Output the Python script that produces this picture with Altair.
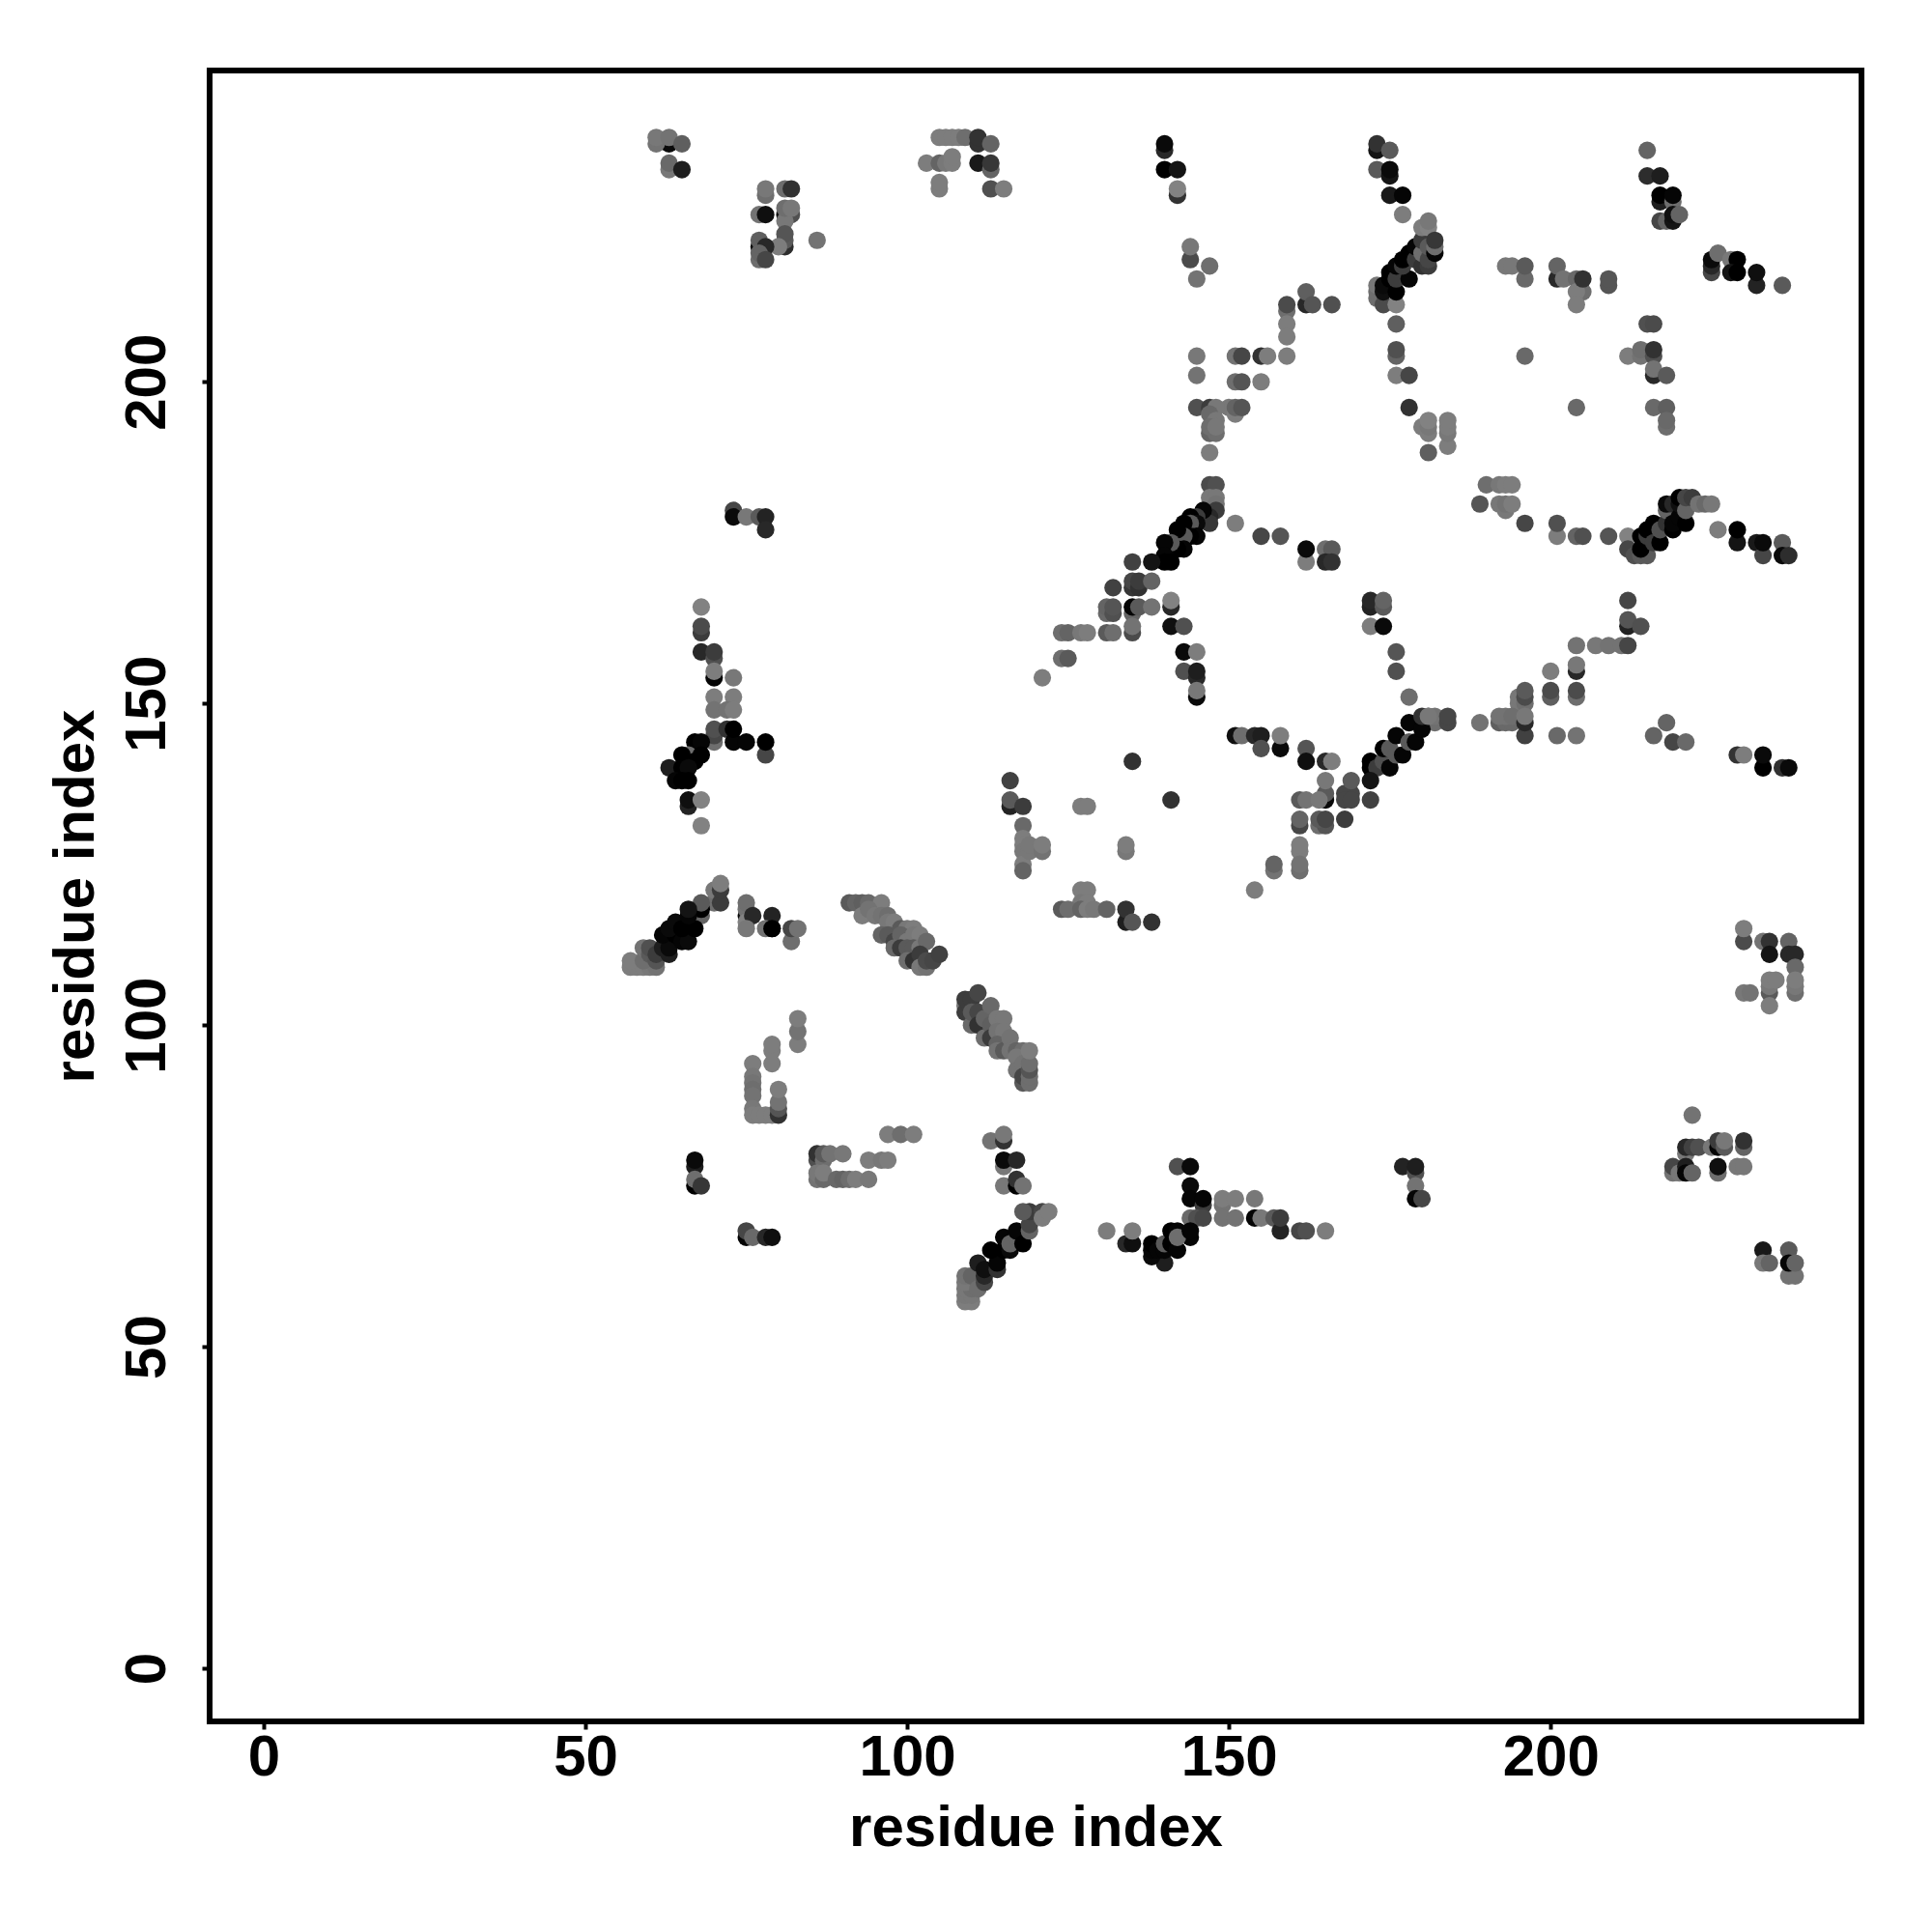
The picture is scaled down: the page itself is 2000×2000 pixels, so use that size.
import altair as alt
import pandas as pd

tick_values = [0, 50, 100, 150, 200]
axis_title = "residue index"

# (residue x, residue y, grey level)
top_left = [
    (63,237,10),(61,237,115),(61,238,120),(63,238,115),(65,237,95),(63,233,120),(63,234,105),(65,233,30),
    (78,229,110),(78,230,120),(81,230,110),(82,230,50),(77,226,115),(78,226,15),(81,226,10),(82,226,80),(81,225,120),(81,227,110),(82,227,120),
    (81,221,45),(81,222,90),(81,223,85),(80,221,125),(77,221,5),(77,222,95),(78,221,40),(77,219,110),(77,220,100),(78,219,70),(86,222,115),
    (105,238,125),(106,238,125),(107,238,125),(108,238,125),(109,238,110),(111,237,50),(111,238,50),(113,237,100),
    (103,234,125),(105,234,100),(106,234,120),(107,234,125),(107,235,125),(111,234,25),(113,233,100),(113,234,55),
    (105,230,125),(105,231,125),(113,230,80),(115,230,125),
]
top_middle = [
    (140,236,40),(140,237,10),(140,233,0),(142,233,20),(142,229,50),(142,230,130),
    (144,219,75),(144,221,120),(147,218,110),(145,216,115),
    (162,212,40),(162,214,95),(163,212,85),(166,212,80),(159,211,110),(159,212,75),(159,209,125),(159,207,125),(159,204,125),
    (145,204,120),(151,204,115),(152,204,70),(155,204,50),(156,204,125),
    (145,201,115),(151,200,110),(152,200,85),(155,200,125),
    (145,196,80),(147,196,60),(150,196,120),(151,195,125),(151,196,100),(152,196,85),(148,196,120),(147,195,105),(148,194,120),
    (147,192,100),(148,192,110),(147,193,110),(148,193,120),(147,189,125),
    (173,236,20),(173,237,50),(175,236,90),(173,233,90),(175,232,20),(175,233,10),(175,229,25),(177,229,5),(177,226,125),
    (173,213,110),(173,214,110),(173,215,120),(174,212,75),(174,214,15),(174,215,10),(176,212,130),
    (176,209,95),(176,204,100),(176,205,80),(176,201,125),(178,201,70),(178,196,50),
    (176,214,0),(175,216,0),(175,217,0),(176,216,60),(178,216,5),(176,218,5),(177,218,60),(177,219,0),(178,220,0),(179,219,60),(179,221,5),
    (180,218,50),(180,220,110),(180,222,60),(180,224,125),(181,218,60),(181,219,70),(181,221,90),(181,224,130),(181,225,120),
    (182,220,5),(182,221,110),(182,222,55),
    (180,193,125),(181,192,125),(181,193,120),(181,194,130),(181,189,95),
    (184,190,125),(184,192,120),(184,193,125),(184,194,125),
]
top_right = [
    (215,236,100),(215,232,45),(217,232,30),(217,228,30),(217,229,0),(219,228,110),(219,229,5),
    (217,225,70),(218,225,100),(219,225,20),(219,226,15),(220,226,100),
    (193,218,120),(194,218,120),(196,216,105),(196,218,90),
    (201,216,40),(201,218,100),(202,216,115),(204,216,105),(205,214,110),(204,214,125),(205,216,50),(204,212,125),
    (209,215,85),(209,216,85),
    (225,217,70),(225,218,40),(225,219,10),(226,220,110),(228,219,120),(229,219,0),(228,217,20),(229,217,0),(232,215,35),(232,217,15),(236,215,90),
    (215,209,80),(216,209,75),(212,204,125),(214,204,115),(214,205,110),(216,204,80),(216,205,50),(216,201,40),(216,202,115),(218,201,90),
    (196,204,105),(204,196,105),(216,196,105),(218,196,95),(218,193,110),(218,194,105),
    (190,184,110),(192,184,120),(193,184,125),(194,184,125),
    (189,181,85),(192,181,120),(193,180,120),(193,181,115),(194,181,125),
]
band_178 = [
    (196,178,70),(201,176,125),(201,178,80),(204,176,100),(205,176,80),(209,176,85),(212,176,130),
    (212,174,70),(213,173,80),(214,173,90),(215,173,90),(214,174,0),(214,176,0),(215,176,60),(215,177,0),
    (216,175,60),(216,178,0),(217,175,0),(217,177,80),(218,178,50),(218,180,100),(218,181,10),
    (219,177,0),(219,178,5),(219,181,40),(220,179,5),(220,181,15),(220,182,0),(221,178,0),(221,180,100),(221,182,70),(222,182,60),
    (223,181,115),(224,181,105),(225,181,120),
    (226,177,125),(229,175,20),(229,177,0),(232,175,25),(233,173,70),(233,175,10),(236,175,90),(236,173,10),(237,173,45),
]
right_mid = [
    (212,166,70),(212,162,35),(212,163,85),(214,162,80),
    (204,159,115),(207,159,120),(209,159,115),(211,159,115),(212,159,70),
    (204,155,40),(204,156,120),(200,155,125),(200,151,95),(200,152,75),(204,151,110),(204,152,75),
    (195,150,120),(195,151,120),(196,150,110),(196,151,75),(196,152,90),
    (192,147,95),(193,147,105),(194,147,105),(192,148,115),(193,148,115),(194,148,110),(189,147,115),
    (196,145,65),(196,147,40),(196,148,120),
    (201,145,105),(204,145,115),(216,145,100),(218,147,100),(219,144,70),(221,144,105),
    (229,142,50),(230,142,125),(233,140,0),(233,142,10),(236,140,50),(237,140,10),
    (181,148,120),(182,147,110),(182,148,115),(184,147,70),(184,148,70),
]
left_mid = [
    (73,180,70),(73,179,10),(75,179,120),(77,179,90),(78,179,35),(78,177,40),
    (68,165,130),(68,161,60),(68,162,75),(68,158,40),(70,157,80),(70,158,60),(70,154,5),(70,155,125),(73,154,120),
    (70,151,125),(73,151,125),(70,149,115),(72,149,115),(73,149,125),
    (70,144,110),(70,145,70),(70,146,80),(72,146,50),(73,144,5),(73,146,0),(75,144,5),(78,142,70),(78,144,0),
    (67,144,0),(68,144,5),(66,141,100),(66,142,110),(65,142,0),(68,142,0),(67,141,0),(63,140,30),(65,140,0),(66,140,10),
    (64,138,5),(65,138,0),(66,138,0),(66,134,35),(66,135,15),(68,135,130),(68,131,130),
    (116,138,65),(116,134,35),(116,135,90),(118,134,60),(118,131,105),(118,129,125),(118,128,125),(118,127,120),
    (118,125,125),(118,124,100),(119,127,120),(119,128,120),(121,127,115),(121,128,125),
    (70,119,110),(70,121,120),(71,119,60),(71,121,60),(71,122,125),(68,117,100),(68,118,0),(68,119,90),
    (75,117,10),(75,118,115),(75,119,110),(75,116,130),(76,117,40),(79,115,0),(79,117,35),
]
chain_upper = [
    (57,109,125),(58,109,125),(59,109,125),(60,109,120),(61,109,115),(57,110,125),(59,110,110),(59,112,115),(60,111,90),(60,112,80),
    (61,110,85),(61,111,60),(62,112,30),(63,111,30),(63,112,10),(62,114,5),(64,114,0),(63,115,10),(65,113,5),(66,113,10),
    (64,116,10),(65,115,0),(67,115,0),(66,117,5),(66,118,20),
    (75,115,120),(78,115,115),(79,115,0),(82,113,110),(82,115,70),(83,115,115),
    (91,119,90),(92,119,100),(93,119,95),(94,119,105),(96,119,125),(93,117,125),(94,118,115),(95,117,120),(96,117,115),(97,117,110),
    (97,116,120),(98,116,125),(96,114,100),(97,114,90),(99,115,90),(100,115,120),(101,115,125),(98,113,70),(99,114,100),(98,112,105),(100,113,120),
    (101,114,120),(102,114,125),(99,112,60),(100,112,90),(101,112,90),(102,112,120),(103,113,105),(100,110,110),(101,110,50),(102,111,60),
    (102,109,120),(103,109,115),(103,110,75),(104,110,70),(105,111,65),
]
chain_lower = [
    (109,103,120),(109,102,60),(110,100,105),(109,104,60),(110,104,60),(110,102,90),(111,105,70),(111,102,70),(111,100,50),(112,101,100),
    (112,98,110),(113,103,105),(113,100,95),(113,98,60),(114,101,120),(115,101,120),(114,99,115),(115,99,120),(114,97,100),(114,96,115),
    (115,96,90),(116,98,115),(116,96,115),(117,96,100),(118,96,110),(117,95,120),(117,93,115),(118,94,115),(118,91,90),(118,92,70),
    (119,91,110),(119,92,110),(119,93,85),(119,94,110),(119,96,125),
    (83,97,125),(83,99,115),(83,101,125),(79,94,125),(79,96,125),(79,97,125),(76,94,125),(76,92,120),(76,91,115),(76,90,110),(76,89,115),
    (76,87,120),(76,86,125),(77,86,125),(78,86,125),(79,86,125),(80,86,50),(80,87,85),(80,88,115),(80,90,125),
    (67,78,30),(67,79,10),(67,75,0),(67,76,110),(68,75,55),
    (86,79,80),(86,80,50),(87,79,110),(87,80,90),(88,80,115),(90,80,120),(86,76,115),(86,77,120),(87,76,105),(87,77,125),
    (89,76,105),(90,76,100),(91,76,110),(92,76,125),(94,76,120),(94,79,125),(96,79,120),(97,79,125),(97,83,125),(99,83,110),(101,83,125),
    (75,67,5),(75,68,70),(76,67,105),(78,67,40),(79,67,15),
    (113,82,115),(115,82,50),(115,83,120),(115,78,120),(115,79,10),(117,79,40),(115,75,120),(117,75,0),(117,76,50),(118,75,115),
]
tail_diagonal = [
    (109,57,125),(110,57,125),(109,58,120),(110,58,120),(109,59,120),(110,59,110),(109,60,120),(109,61,115),(110,61,100),
    (111,59,110),(112,60,70),(111,63,30),(112,61,40),(112,62,15),(114,62,50),(114,63,5),(113,65,0),(115,65,0),(116,65,10),(115,67,5),(116,66,100),
    (117,67,100),(117,68,5),(118,66,0),(119,68,100),(119,69,70),(119,71,60),(118,71,90),(121,71,70),(121,70,125),(122,71,125),
]
lower_middle = [
    (142,78,80),(144,78,10),(144,75,10),(144,73,5),(146,72,60),(146,73,5),(144,70,105),(145,70,80),(146,70,70),
    (149,72,115),(149,73,125),(151,73,125),(154,73,120),(149,70,115),(151,70,115),(154,70,5),(155,70,120),(157,70,90),(158,68,35),(158,70,60),
    (161,68,70),(162,68,80),(165,68,125),(131,68,125),(134,66,40),(135,66,15),(135,68,125),
    (140,63,30),(138,64,10),(138,65,5),(138,66,0),(139,65,5),(140,65,5),(140,66,90),(141,66,0),(142,65,5),(141,68,0),(142,68,5),(144,67,5),(142,67,110),(144,68,5),
    (177,78,35),(179,77,80),(179,78,30),(179,75,115),(179,73,5),(180,73,70),
]
lower_right = [
    (230,113,75),(230,115,125),(233,113,115),(234,113,50),(237,113,100),(234,111,20),(237,111,40),(238,111,40),(238,109,105),
    (238,105,110),(238,106,120),(238,107,125),(234,105,90),(234,106,120),(234,107,125),(235,107,125),(234,103,125),(230,105,120),(231,105,115),
    (222,86,115),(221,80,120),(221,81,40),(222,81,65),(223,81,80),(225,81,120),(226,81,5),(226,82,60),(227,81,90),(227,82,120),(230,81,100),(230,82,50),
    (219,77,115),(219,78,70),(220,77,120),(221,78,30),(221,77,5),(222,77,100),(226,77,110),(226,78,15),(229,78,120),(230,78,120),
    (233,65,25),(233,63,120),(234,63,100),(237,65,90),(237,61,115),(238,61,115),(237,63,5),(238,63,100),
]
centre = [
    (151,178,125),(155,176,70),(158,176,85),(162,172,125),(162,174,10),(165,174,110),(166,174,90),(165,172,40),(166,172,50),
    (172,165,35),(172,166,40),(174,165,90),(174,166,100),(172,162,125),(174,162,10),(176,158,85),(176,155,80),(178,151,110),
    (147,184,75),(148,184,80),(147,182,120),(148,182,120),(148,181,115),(148,180,60),(147,179,40),(147,178,55),
    (146,180,5),(145,179,60),(144,179,0),(145,178,10),(144,178,90),(143,178,0),(145,176,5),(144,176,0),(143,176,90),(142,177,0),(143,174,5),(142,174,0),
    (141,175,90),(140,175,5),(140,173,5),(141,172,0),(140,172,0),(138,172,20),(135,172,65),
    (135,168,55),(135,169,70),(136,168,50),(136,169,60),(138,169,100),(132,168,65),
    (131,164,105),(131,165,100),(132,164,80),(132,165,85),(135,164,100),(135,165,5),(136,165,90),(138,165,115),(141,165,40),(141,166,130),
    (141,162,15),(143,162,80),(124,161,110),(125,161,100),(127,161,120),(128,161,125),(131,161,90),(132,161,110),(135,161,75),(135,162,115),
    (124,157,110),(125,157,90),(121,154,125),(143,158,10),(145,158,125),(143,155,80),(145,154,40),(145,155,30),(145,151,10),(145,152,120),
    (151,145,15),(152,145,110),(154,145,40),(155,145,30),(158,143,10),(158,145,125),(155,143,80),(162,143,85),(162,141,15),(165,141,40),(166,141,125),
    (135,141,50),(141,135,50),
]
centre_right = [
    (172,140,0),(172,141,0),(173,140,60),(174,141,80),(175,140,5),(174,143,0),(175,143,90),(176,142,90),(177,142,5),(176,145,5),(178,144,90),(179,144,5),
    (178,147,5),(180,146,5),(180,148,50),(181,148,120),(172,138,20),(172,135,65),
    (168,136,70),(169,136,70),(168,135,70),(169,135,70),(169,138,90),(165,135,10),(165,136,90),(165,138,120),(168,132,60),
    (161,135,90),(162,135,115),(164,135,120),(161,131,70),(161,132,100),(164,131,110),(165,131,85),(164,132,90),(165,132,70),
    (161,127,125),(161,128,125),(161,124,110),(161,125,115),(157,124,115),(157,125,100),(154,121,125),
    (127,134,125),(128,134,125),(134,127,120),(134,128,125),
    (127,121,125),(128,121,125),(127,119,120),(128,119,125),(124,118,90),(125,118,110),(127,118,100),(128,118,125),(129,118,120),(131,118,100),
    (134,116,30),(134,118,50),(135,116,85),(138,116,50),
]

clusters = [top_left, top_middle, top_right, band_178, right_mid, left_mid, chain_upper,
            chain_lower, tail_diagonal, lower_middle, lower_right, centre, centre_right]
df = pd.DataFrame([t for c in clusters for t in c], columns=["x", "y", "grey"])

FONT = "Liberation Sans"
def axis(orient_angle=0, **kw):
    return alt.Axis(values=tick_values, grid=False, domain=False, ticks=True, tickSize=8, tickWidth=4,
                    tickColor="black", labelFont=FONT, labelFontWeight="bold", labelFontSize=60,
                    labelColor="black", titleFont=FONT, titleFontWeight="bold", titleFontSize=60,
                    titleColor="black", labelAngle=orient_angle, labelOverlap=False, labelFlush=False,
                    title=axis_title, **kw)

chart = (
    alt.Chart(df)
    .mark_circle(size=330, opacity=1, clip=False)
    .encode(
        x=alt.X("x:Q", scale=alt.Scale(domain=[-8.4, 248.3], nice=False, zero=False),
                axis=axis(0, labelPadding=0, titlePadding=14)),
        y=alt.Y("y:Q", scale=alt.Scale(domain=[-8.26, 248.4], nice=False, zero=False),
                axis=axis(270, labelPadding=57, titlePadding=13, labelAlign="center", labelBaseline="middle")),
        color=alt.Color("grey:Q", scale=alt.Scale(domain=[0, 255], range=["#000000", "#ffffff"], interpolate="rgb"), legend=None),
    )
    .properties(width=1710, height=1709, autosize=alt.AutoSizeParams(type="none"),
                padding={"left": 209, "top": 65, "right": 60, "bottom": 200})
    .configure_view(stroke="black", strokeWidth=6)
)
chart.save("out.html", embed_options={"renderer": "svg", "actions": False})
